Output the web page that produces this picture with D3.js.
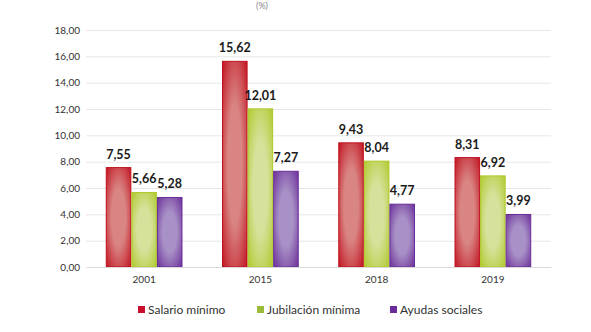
<!DOCTYPE html>
<html><head><meta charset="utf-8">
<script src="https://cdn.jsdelivr.net/npm/d3@7"></script>
<style>body{margin:0;background:#fff}svg{display:block}</style>
</head><body>
<svg id="c" width="591" height="332"></svg>
<script>
const categories = ["2001","2015","2018","2019"];
const series = ["Salario mínimo","Jubilación mínima","Ayudas sociales"];
const salario = [7.55,15.62,9.43,8.31];
const jubilacion = [5.66,12.01,8.04,6.92];
const ayudas = [5.28,7.27,4.77,3.99];
const yTicks = [0,2,4,6,8,10,12,14,16,18];
const values = [salario, jubilacion, ayudas];
const colors = [
  {edge:"#c0101e", mid:"#d98583", legend:"#c8102e"},
  {edge:"#afc82a", mid:"#d6e29c", legend:"#9bbb3b"},
  {edge:"#6a2c98", mid:"#a891c6", legend:"#6a2c98"}
];
const svg = d3.select("#c");
const fmt = v => v.toFixed(2).replace(".", ",");
const x = d3.scaleBand().domain(categories).range([86,551]).paddingInner(0.34).paddingOuter(0.17);
const xs = d3.scaleBand().domain(series).range([0,x.bandwidth()]);
const y = d3.scaleLinear().domain([0,18]).range([267,30]);

const defs = svg.append("defs");
colors.forEach((c,i)=>{
  const g = defs.append("radialGradient").attr("id","g"+i).attr("cx","50%").attr("cy","50%").attr("r","72%");
  g.append("stop").attr("offset","0%").attr("stop-color",c.mid);
  g.append("stop").attr("offset","40%").attr("stop-color",c.mid);
  g.append("stop").attr("offset","100%").attr("stop-color",c.edge);
});

svg.append("text").attr("x",262).attr("y",9).attr("text-anchor","middle")
  .attr("font-family","Lato, sans-serif").attr("font-size",9).attr("fill","#888").text("(%)");

// gridlines
svg.append("g").selectAll("line").data(yTicks.filter(d=>d>0)).join("line")
  .attr("x1",86).attr("x2",551).attr("y1",d=>y(d)+0.5).attr("y2",d=>y(d)+0.5)
  .attr("stroke","#e6e6e6").attr("stroke-width",1);

// y axis
const ya = svg.append("g").attr("transform","translate(80,0)")
  .call(d3.axisLeft(y).tickValues(yTicks).tickFormat(fmt).tickSize(0).tickPadding(0));
ya.select(".domain").remove();
ya.selectAll("text").attr("font-family","Lato, sans-serif").attr("font-size",10).attr("fill","#333");

// bars
const grp = svg.append("g").selectAll("g").data(categories).join("g")
  .attr("transform",d=>`translate(${x(d)},0)`);
series.forEach((s,si)=>{
  grp.append("rect")
    .attr("x",xs(s)+0.5).attr("width",xs.bandwidth()-1)
    .attr("y",(d,i)=>y(values[si][i])).attr("height",(d,i)=>y(0)-y(values[si][i]))
    .attr("fill",`url(#g${si})`).attr("stroke",colors[si].edge).attr("stroke-width",1);
  grp.append("text")
    .attr("x",xs(s)+xs.bandwidth()/2).attr("y",(d,i)=>y(values[si][i])-9)
    .attr("text-anchor","middle").attr("font-family","Lato, sans-serif")
    .attr("font-weight","bold").attr("font-size",12.5).attr("fill","#1a1a1a")
    .text((d,i)=>fmt(values[si][i]));
});

// x axis
const xa = svg.append("g").attr("transform","translate(0,267)")
  .call(d3.axisBottom(x).tickSize(0).tickPadding(9));
xa.select(".domain").attr("stroke","#d9d9d9");
xa.selectAll("text").attr("font-family","Lato, sans-serif").attr("font-size",10).attr("fill","#333");

// legend
const legX = [138,257,390];
const leg = svg.append("g").selectAll("g").data(series).join("g")
  .attr("transform",(d,i)=>`translate(${legX[i]},306)`);
leg.append("rect").attr("width",7).attr("height",7).attr("fill",(d,i)=>colors[i].legend);
leg.append("text").attr("x",10).attr("y",7.5).attr("font-family","Lato, sans-serif")
  .attr("font-size",12).attr("fill","#333").text(d=>d);
</script>
</body></html>
